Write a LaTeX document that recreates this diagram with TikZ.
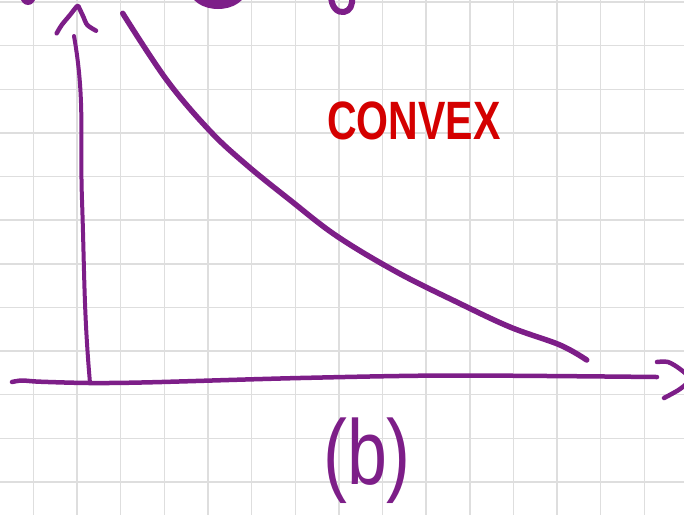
\documentclass[tikz,border=0pt]{standalone}
\usepackage{fontspec}
\setmainfont{Liberation Sans}
\usepackage{xcolor}
\usepackage{tikz}
\definecolor{inkpurple}{RGB}{125,30,136}
\definecolor{inkred}{RGB}{212,0,0}
\definecolor{gridgray}{RGB}{222,222,222}

\begin{document}
\begin{tikzpicture} [
    x=1pt, y=-1pt,
    gridline/.style={draw=gridgray, line width=1.4pt},
    ink/.style={draw=inkpurple, line width=5.5pt, line cap=round, line join=round},
    axisline/.style={ink, line width=4.5pt},
    note/.style={text=inkred, font=\bfseries\fontsize{54}{54}\selectfont, xscale=0.76, inner sep=0pt},
    caption/.style={text=inkpurple, font=\fontsize{92}{92}\selectfont, xscale=0.78, inner sep=0pt}
]
\useasboundingbox (0,0) rectangle (684,515);
\clip (0,0) rectangle (684,515);
\fill[white] (0,0) rectangle (684,515);

% Grid paper
\foreach \i in {0,...,15}
    \draw[gridline] ({33.5+43.63*\i},0) -- ({33.5+43.63*\i},515);
\foreach \j in {0,...,11}
    \draw[gridline] (0,{2.04+43.63*\j}) -- (684,{2.04+43.63*\j});

% Cut-off strokes at the top
\fill[inkpurple] (28,-3) ellipse [x radius=7.5, y radius=8];
\fill[inkpurple] (218,-10) ellipse [x radius=28, y radius=19];
\draw[ink, line width=6pt] (331,-5) .. controls (331,8) and (338,13) .. (344,12) .. controls (350,11) and (353,5) .. (352,-3);

% Axes
\coordinate (origin) at (90,383);
\draw[axisline, line width=4pt] (74,36) to[out=-80,in=92] (82,200) to[out=-88,in=95] (origin);
\draw[axisline] plot[smooth] coordinates {(12,382) (22,380.5) (40,381.7) (origin) (150,382.3) (300,378) (450,375.5) (657,377)};

% Arrow heads
\draw[axisline] plot[smooth] coordinates {(56.7,33.3) (61.7,25) (70,15) (77.3,6) (79.3,8.3) (83.3,16.7) (87.3,25) (96,30.7)};
\draw[axisline] plot[smooth] coordinates {(657,362) (668,362) (680,369) (690,379) (680,389) (664,398)};

% Convex curve
\draw[ink] plot[smooth, tension=0.6] coordinates {(122.7,13.3) (166.7,80) (210,131) (246.7,165) (290,200) (336.7,236) (396.7,272) (456.7,302) (510,327) (560,345) (586.7,360)};

% Labels
\node[note] (convex) at (414,121) {CONVEX};
\node[caption] (part) at (367,461) {(b)};

\end{tikzpicture}
\end{document}
